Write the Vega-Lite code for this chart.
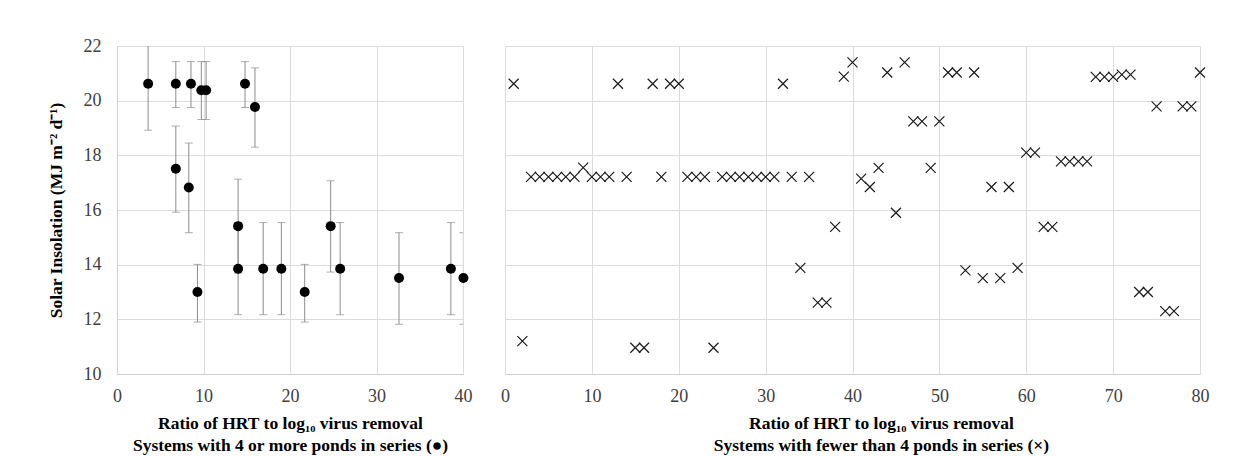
{
  "$schema": "https://vega.github.io/schema/vega-lite/v6.json",
  "background": "white",
  "padding": {"left": 47, "top": 37, "right": 5, "bottom": 5},
  "config": {
    "font": "Liberation Serif",
    "view": {"stroke": null},
    "axis": {
      "labelFont": "Liberation Serif",
      "labelFontSize": 18,
      "labelColor": "#404040",
      "labelFlush": false,
      "titleFont": "Liberation Serif",
      "titleFontSize": 17.5,
      "titleFontWeight": "bold",
      "titleColor": "#000000",
      "gridColor": "#dcdcdc",
      "gridWidth": 1,
      "domainColor": "#d0d0d0",
      "ticks": false
    }
  },
  "datasets": {
    "four": [
      {"x": 3.6, "y": 20.62, "lo": 18.92, "hi": 22.32},
      {"x": 6.8, "y": 20.62, "lo": 19.75, "hi": 21.43},
      {"x": 8.55, "y": 20.62, "lo": 19.75, "hi": 21.43},
      {"x": 9.75, "y": 20.38, "lo": 19.31, "hi": 21.43},
      {"x": 10.3, "y": 20.38, "lo": 19.31, "hi": 21.43},
      {"x": 14.8, "y": 20.62, "lo": 19.75, "hi": 21.43},
      {"x": 15.95, "y": 19.77, "lo": 18.3, "hi": 21.2},
      {"x": 6.8, "y": 17.51, "lo": 15.92, "hi": 19.07},
      {"x": 8.3, "y": 16.82, "lo": 15.17, "hi": 18.45},
      {"x": 14.0, "y": 15.41, "lo": 13.69, "hi": 17.13},
      {"x": 14.0, "y": 13.85, "lo": 12.17, "hi": 15.54},
      {"x": 16.9, "y": 13.85, "lo": 12.17, "hi": 15.54},
      {"x": 19.0, "y": 13.85, "lo": 12.17, "hi": 15.54},
      {"x": 9.3, "y": 13.0, "lo": 11.9, "hi": 14.01},
      {"x": 21.7, "y": 13.0, "lo": 11.9, "hi": 14.01},
      {"x": 24.7, "y": 15.41, "lo": 13.73, "hi": 17.07},
      {"x": 25.8, "y": 13.85, "lo": 12.17, "hi": 15.54},
      {"x": 32.6, "y": 13.51, "lo": 11.82, "hi": 15.17},
      {"x": 38.6, "y": 13.85, "lo": 12.17, "hi": 15.54},
      {"x": 40.05, "y": 13.51, "lo": 11.82, "hi": 15.17}
    ],
    "fewer": [
      {"x": 1, "y": 20.62}, {"x": 13, "y": 20.62}, {"x": 17, "y": 20.62}, {"x": 19, "y": 20.62}, {"x": 20, "y": 20.62}, {"x": 32, "y": 20.62},
      {"x": 39, "y": 20.88}, {"x": 40, "y": 21.4},
      {"x": 3, "y": 17.21}, {"x": 4, "y": 17.21}, {"x": 5, "y": 17.21}, {"x": 6, "y": 17.21}, {"x": 7, "y": 17.21}, {"x": 8, "y": 17.21},
      {"x": 9, "y": 17.55},
      {"x": 10, "y": 17.21}, {"x": 11, "y": 17.21}, {"x": 12, "y": 17.21}, {"x": 14, "y": 17.21}, {"x": 18, "y": 17.21},
      {"x": 21, "y": 17.21}, {"x": 22, "y": 17.21}, {"x": 23, "y": 17.21},
      {"x": 25, "y": 17.21}, {"x": 26, "y": 17.21}, {"x": 27, "y": 17.21}, {"x": 28, "y": 17.21}, {"x": 29, "y": 17.21}, {"x": 30, "y": 17.21}, {"x": 31, "y": 17.21},
      {"x": 33, "y": 17.21}, {"x": 35, "y": 17.21},
      {"x": 2, "y": 11.2}, {"x": 15, "y": 10.96}, {"x": 16, "y": 10.96}, {"x": 24, "y": 10.96},
      {"x": 34, "y": 13.88}, {"x": 36, "y": 12.61}, {"x": 37, "y": 12.61}, {"x": 38, "y": 15.38},
      {"x": 41, "y": 17.15}, {"x": 42, "y": 16.84}, {"x": 43, "y": 17.54}, {"x": 44, "y": 21.03}, {"x": 45, "y": 15.9}, {"x": 46, "y": 21.4},
      {"x": 47, "y": 19.24}, {"x": 48, "y": 19.24}, {"x": 49, "y": 17.54}, {"x": 50, "y": 19.24},
      {"x": 51, "y": 21.03}, {"x": 52, "y": 21.03}, {"x": 53, "y": 13.79}, {"x": 54, "y": 21.03}, {"x": 55, "y": 13.51},
      {"x": 56, "y": 16.84}, {"x": 57, "y": 13.51}, {"x": 58, "y": 16.84}, {"x": 59, "y": 13.88},
      {"x": 60, "y": 18.1}, {"x": 61, "y": 18.1}, {"x": 62, "y": 15.38}, {"x": 63, "y": 15.38},
      {"x": 64, "y": 17.78}, {"x": 65, "y": 17.78}, {"x": 66, "y": 17.78}, {"x": 67, "y": 17.78},
      {"x": 68, "y": 20.87}, {"x": 69, "y": 20.87}, {"x": 70, "y": 20.87}, {"x": 71, "y": 20.95}, {"x": 72, "y": 20.95},
      {"x": 73, "y": 13.0}, {"x": 74, "y": 13.0}, {"x": 75, "y": 19.79}, {"x": 76, "y": 12.3}, {"x": 77, "y": 12.3},
      {"x": 78, "y": 19.79}, {"x": 79, "y": 19.79}, {"x": 80, "y": 21.03}
    ]
  },
  "hconcat": [
    {
      "width": 346,
      "height": 328,
      "data": {"name": "four"},
      "encoding": {
        "x": {
          "field": "x", "type": "quantitative",
          "scale": {"domain": [0, 40], "nice": false, "zero": false},
          "axis": {
            "values": [0, 10, 20, 30, 40],
            "labelPadding": 13,
            "titlePadding": 9,
            "titleLineHeight": 22.5,
            "title": ["Ratio of HRT to log₁₀ virus removal", "Systems with 4 or more ponds in series (●)"]
          }
        },
        "y": {
          "field": "y", "type": "quantitative",
          "scale": {"domain": [10, 22], "nice": false, "zero": false},
          "axis": {
            "values": [10, 12, 14, 16, 18, 20, 22],
            "labelPadding": 16,
            "titlePadding": 18,
            "title": "Solar Insolation (MJ m⁻² d⁻¹)"
          }
        }
      },
      "layer": [
        {
          "mark": {"type": "rule", "color": "#8c8c8c", "strokeWidth": 1, "clip": true},
          "encoding": {"y": {"field": "lo", "type": "quantitative"}, "y2": {"field": "hi"}}
        },
        {
          "mark": {"type": "tick", "orient": "horizontal", "color": "#8c8c8c", "size": 8, "thickness": 1, "clip": true},
          "encoding": {"y": {"field": "lo", "type": "quantitative"}}
        },
        {
          "mark": {"type": "tick", "orient": "horizontal", "color": "#8c8c8c", "size": 8, "thickness": 1, "clip": true},
          "encoding": {"y": {"field": "hi", "type": "quantitative"}}
        },
        {
          "mark": {"type": "point", "shape": "circle", "filled": true, "color": "#000000", "size": 100, "opacity": 1}
        }
      ]
    },
    {
      "width": 695,
      "height": 328,
      "data": {"name": "fewer"},
      "mark": {"type": "point", "shape": "M-1,-1L1,1M-1,1L1,-1", "filled": false, "color": "#1a1a1a", "strokeWidth": 1.2, "size": 100, "opacity": 1},
      "encoding": {
        "x": {
          "field": "x", "type": "quantitative",
          "scale": {"domain": [0, 80], "nice": false, "zero": false},
          "axis": {
            "values": [0, 10, 20, 30, 40, 50, 60, 70, 80],
            "labelPadding": 13,
            "titlePadding": 9,
            "titleLineHeight": 22.5,
            "titleX": 376,
            "title": ["Ratio of HRT to log₁₀ virus removal", "Systems with fewer than 4 ponds in series (×)"]
          }
        },
        "y": {
          "field": "y", "type": "quantitative",
          "scale": {"domain": [10, 22], "nice": false, "zero": false},
          "axis": {
            "values": [10, 12, 14, 16, 18, 20, 22],
            "labels": false,
            "domain": false,
            "title": null
          }
        }
      }
    }
  ],
  "spacing": 28
}
